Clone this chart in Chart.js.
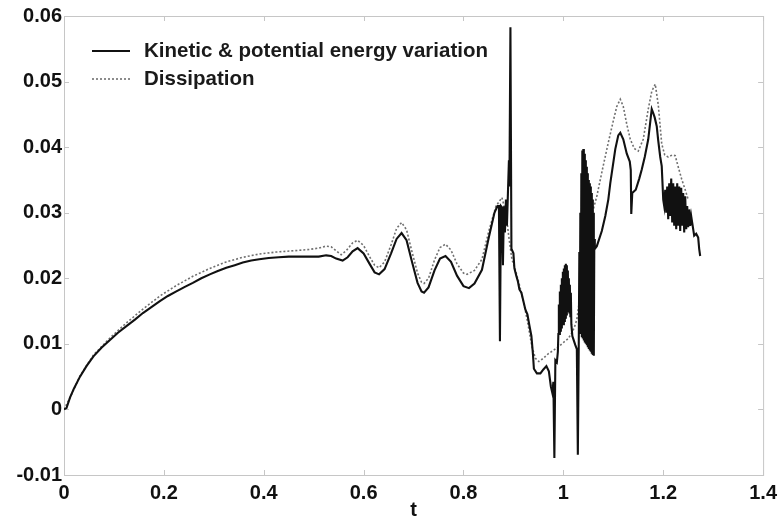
<!DOCTYPE html>
<html>
<head>
<meta charset="utf-8">
<script src="https://cdn.jsdelivr.net/npm/chart.js@4.4.0/dist/chart.umd.min.js"></script>
<style>
    html, body { margin: 0; padding: 0; background: #fff; }
    canvas { display: block; }
</style>
</head>
<body>
<canvas id="graficoEnergia" width="783" height="522"></canvas>
<script>
// valores
var tCinetica = [
    0, 0.005, 0.012, 0.02, 0.032, 0.045, 0.059, 0.075, 0.092, 0.108,
    0.125, 0.142, 0.158, 0.175, 0.192, 0.208, 0.225, 0.242, 0.258, 0.275,
    0.292, 0.308, 0.325, 0.342, 0.358, 0.375, 0.391, 0.41, 0.43, 0.45,
    0.47, 0.491, 0.51, 0.525, 0.535, 0.545, 0.558, 0.568, 0.578, 0.588,
    0.6, 0.612, 0.622, 0.631, 0.642, 0.655, 0.666, 0.676, 0.686, 0.697,
    0.708, 0.716, 0.721, 0.73, 0.742, 0.753, 0.764, 0.775, 0.787, 0.8,
    0.811, 0.822, 0.837, 0.85, 0.862, 0.868, 0.871, 0.873, 0.875, 0.877,
    0.879, 0.881, 0.883, 0.885, 0.887, 0.889, 0.891, 0.892, 0.894, 0.896,
    0.9, 0.902, 0.906, 0.909, 0.912, 0.916, 0.92, 0.924, 0.928, 0.932,
    0.936, 0.939, 0.941, 0.947, 0.954, 0.96, 0.966, 0.971, 0.975, 0.978,
    0.98, 0.982, 0.984, 0.987, 0.989,
    0.990, 0.991, 0.992, 0.993, 0.994, 0.995, 0.996, 0.997, 0.998, 0.999,
    1.000, 1.001, 1.002, 1.003, 1.004, 1.005, 1.006, 1.007, 1.008, 1.009,
    1.010, 1.011, 1.012, 1.013, 1.014, 1.015, 1.016, 1.018, 1.021, 1.024,
    1.027, 1.029, 1.031,
    1.032, 1.033, 1.034, 1.035, 1.036, 1.037, 1.038, 1.039, 1.040, 1.041,
    1.042, 1.043, 1.044, 1.045, 1.046, 1.047, 1.048, 1.049, 1.050, 1.051,
    1.052, 1.053, 1.054, 1.055, 1.056, 1.057, 1.058, 1.059, 1.060, 1.061,
    1.062, 1.063,
    1.067, 1.077, 1.084, 1.09, 1.094, 1.104, 1.11, 1.114, 1.12, 1.127,
    1.133, 1.135, 1.136, 1.138, 1.145, 1.152, 1.157, 1.163, 1.17, 1.175,
    1.177, 1.18, 1.183, 1.187, 1.19, 1.194, 1.197, 1.2,
    1.202, 1.204, 1.206, 1.208, 1.210, 1.212, 1.214, 1.216, 1.218, 1.220,
    1.222, 1.224, 1.226, 1.228, 1.230, 1.232, 1.234, 1.236, 1.238, 1.240,
    1.242, 1.244, 1.246, 1.248, 1.250, 1.252, 1.254, 1.256, 1.258, 1.262,
    1.266, 1.27, 1.272, 1.274
];
var cinetica = [
    0, 0.0002, 0.0018, 0.0032, 0.005, 0.0066, 0.0081, 0.0094, 0.0106, 0.0117,
    0.0127, 0.0137, 0.0147, 0.0156, 0.0165, 0.0173, 0.018, 0.0187, 0.0193, 0.02,
    0.0206, 0.0211, 0.0216, 0.022, 0.0224, 0.0227, 0.0229, 0.0231, 0.0232, 0.0233,
    0.0233, 0.0233, 0.0233, 0.0235, 0.0234, 0.023, 0.0227, 0.0232, 0.0241, 0.0246,
    0.0238, 0.0222, 0.0209, 0.0206, 0.0214, 0.0238, 0.026, 0.0269, 0.0258, 0.0225,
    0.0193, 0.018, 0.0178, 0.0186, 0.0212, 0.023, 0.0234, 0.0225, 0.0204, 0.0188,
    0.0185, 0.0192, 0.0213, 0.026, 0.030, 0.031, 0.031, 0.0104, 0.031, 0.0308,
    0.022, 0.031, 0.027, 0.032, 0.028, 0.033, 0.038, 0.034, 0.0583, 0.0245,
    0.0238, 0.0215, 0.0203, 0.0195, 0.0183, 0.0178, 0.0165, 0.0152, 0.0145, 0.0128,
    0.0112, 0.0085, 0.0062, 0.0055, 0.0055, 0.0061, 0.0066, 0.0058, 0.0035, 0.0025,
    0.0042, -0.0074, 0.0075, 0.0072, 0.0088,
    0.0115, 0.016, 0.0115, 0.018, 0.012, 0.019, 0.0125, 0.020, 0.013, 0.021,
    0.013, 0.0215, 0.0135, 0.022, 0.014, 0.0222, 0.0145, 0.022, 0.015, 0.0212,
    0.015, 0.020, 0.0148, 0.019, 0.0142, 0.0178, 0.013, 0.0112, 0.0105, 0.0098,
    0.0092, -0.0069, 0.0115,
    0.024, 0.012, 0.030, 0.0115, 0.036, 0.011, 0.0395, 0.0108, 0.0397, 0.0105,
    0.039, 0.0102, 0.038, 0.010, 0.037, 0.0098, 0.036, 0.0095, 0.035, 0.0092,
    0.0345, 0.009, 0.034, 0.0088, 0.033, 0.0085, 0.032, 0.0083, 0.030, 0.0082,
    0.026, 0.0245,
    0.0249, 0.0272, 0.0295, 0.032, 0.0345, 0.0397, 0.0418, 0.0422, 0.0412, 0.039,
    0.0378, 0.0365, 0.0298, 0.033, 0.0335, 0.0352, 0.0366, 0.0385, 0.0412, 0.0445,
    0.0458, 0.0452, 0.0445, 0.0432, 0.041, 0.0385, 0.0371, 0.032,
    0.031, 0.0335, 0.030, 0.034, 0.029, 0.0345, 0.0295, 0.0352, 0.0285, 0.0345,
    0.028, 0.034, 0.0275, 0.0345, 0.028, 0.034, 0.0272, 0.0338, 0.028, 0.033,
    0.027, 0.0325, 0.0275, 0.031, 0.0278, 0.0305, 0.028, 0.0295, 0.0285, 0.0265,
    0.0268, 0.0262, 0.0245, 0.0234
];

var tDissipacao = [
    0, 0.012, 0.032, 0.059, 0.092, 0.125, 0.158, 0.192, 0.225, 0.258,
    0.292, 0.325, 0.358, 0.391, 0.425, 0.46, 0.491, 0.51, 0.524, 0.535,
    0.545, 0.555, 0.565, 0.578, 0.588, 0.6, 0.612, 0.622, 0.631, 0.642,
    0.655, 0.666, 0.676, 0.686, 0.697, 0.708, 0.716, 0.721, 0.73, 0.742,
    0.753, 0.764, 0.775, 0.787, 0.8, 0.807, 0.822, 0.837, 0.85, 0.865,
    0.877, 0.885, 0.891, 0.897, 0.905, 0.912, 0.92, 0.928, 0.937, 0.944,
    0.951, 0.96, 0.97, 0.98, 0.991, 1.0, 1.01, 1.017, 1.022, 1.027,
    1.032, 1.037, 1.05, 1.058, 1.067, 1.078, 1.09, 1.1, 1.107, 1.114,
    1.12, 1.127, 1.134, 1.142, 1.15, 1.16, 1.17, 1.177, 1.184, 1.19,
    1.197, 1.203, 1.21, 1.218, 1.224, 1.23, 1.237, 1.244, 1.25
];
var dissipacao = [
    0, 0.0018, 0.0051, 0.0083, 0.0109, 0.0132, 0.0153, 0.0173, 0.0189, 0.0203,
    0.0215, 0.0225, 0.0232, 0.0237, 0.024, 0.0242, 0.0244, 0.0246, 0.0249, 0.0248,
    0.0242, 0.0236, 0.0242, 0.0254, 0.0258, 0.025, 0.0233, 0.022, 0.0216, 0.0225,
    0.0251, 0.0276, 0.0285, 0.0274, 0.024, 0.0208, 0.0194, 0.0192, 0.02, 0.0228,
    0.0247, 0.0252, 0.0243, 0.0222, 0.0208, 0.0206, 0.0212, 0.0229, 0.027, 0.031,
    0.0323, 0.030, 0.0262, 0.0229, 0.021, 0.019, 0.0165, 0.0135, 0.0096, 0.0078,
    0.0073, 0.0078, 0.0085, 0.009, 0.0096, 0.0102, 0.0108, 0.0117, 0.0125, 0.0137,
    0.0165, 0.0193, 0.027, 0.030, 0.0325, 0.0365, 0.0407, 0.044, 0.0462, 0.0473,
    0.0462, 0.0435, 0.0412, 0.0398, 0.0394, 0.0412, 0.0458, 0.0485, 0.0496, 0.0465,
    0.0405, 0.0388, 0.0385, 0.0388, 0.0387, 0.037, 0.0351, 0.0335, 0.032
];

var ticksX = [0, 0.2, 0.4, 0.6, 0.8, 1, 1.2, 1.4];
var ticksY = [-0.01, 0, 0.01, 0.02, 0.03, 0.04, 0.05, 0.06];
var rotulos = ['Kinetic & potential energy variation', 'Dissipation'];

var fonte = '"Liberation Sans", Arial, Helvetica, sans-serif';

function montarPontos(listaT, listaY) {
    var pontos = [];
    for (var i = 0; i < listaT.length; i++) {
        pontos.push({ x: listaT[i], y: listaY[i] });
    }
    return pontos;
}

function formatarTick(valor) {
    return String(parseFloat(valor.toFixed(3)));
}

// moldura e marcas para dentro, estilo matlab
const pluginMoldura = {
    id: 'moldura',
    beforeDatasetsDraw(chart) {
        const { ctx, chartArea: a, scales } = chart;
        ctx.save();
        ctx.strokeStyle = '#c6c6c6';
        ctx.lineWidth = 1;
        ctx.strokeRect(a.left + 0.5, a.top + 0.5, a.right - a.left, a.bottom - a.top);
        ctx.beginPath();
        scales.x.ticks.forEach(t => {
            const px = Math.round(scales.x.getPixelForValue(t.value)) + 0.5;
            ctx.moveTo(px, a.bottom); ctx.lineTo(px, a.bottom - 5);
            ctx.moveTo(px, a.top); ctx.lineTo(px, a.top + 5);
        });
        scales.y.ticks.forEach(t => {
            const py = Math.round(scales.y.getPixelForValue(t.value)) + 0.5;
            ctx.moveTo(a.left, py); ctx.lineTo(a.left + 5, py);
            ctx.moveTo(a.right, py); ctx.lineTo(a.right - 5, py);
        });
        ctx.stroke();
        ctx.restore();
    }
};

const pluginLegenda = {
    id: 'legendaMatlab',
    afterDatasetsDraw(chart) {
        const { ctx, chartArea: a } = chart;
        ctx.save();
        ctx.font = 'bold 20.5px ' + fonte;
        ctx.textBaseline = 'middle';
        ctx.fillStyle = '#1a1a1a';
        chart.data.datasets.forEach((ds, i) => {
            const y = a.top + 35 + i * 28;
            ctx.strokeStyle = ds.borderColor;
            ctx.lineWidth = ds.borderWidth;
            ctx.setLineDash(ds.borderDash || []);
            ctx.beginPath();
            ctx.moveTo(a.left + 28, y);
            ctx.lineTo(a.left + 66, y);
            ctx.stroke();
            ctx.fillText(ds.label, a.left + 80, y);
        });
        ctx.restore();
    }
};

const ctx = document.getElementById('graficoEnergia');

const data = {
    datasets: [
        {
            label: rotulos[0],
            data: montarPontos(tCinetica, cinetica),
            borderColor: '#111111',
            borderWidth: 2.1,
            pointRadius: 0,
            tension: 0
        },
        {
            label: rotulos[1],
            data: montarPontos(tDissipacao, dissipacao),
            borderColor: '#707070',
            borderWidth: 1.6,
            borderDash: [2, 2],
            pointRadius: 0,
            tension: 0
        }
    ]
};

const config = {
    type: 'line',
    data: data,
    options: {
        responsive: false,
        animation: false,
        devicePixelRatio: 1,
        layout: { padding: { left: 0, top: 16, right: 19, bottom: 0 } },
        plugins: {
            legend: { display: false },
            tooltip: { enabled: false }
        },
        scales: {
            x: {
                type: 'linear',
                min: 0,
                max: 1.4,
                afterBuildTicks: scale => { scale.ticks = ticksX.map(v => ({ value: v })); },
                afterFit: scale => { scale.height = 47; },
                grid: { display: false, drawTicks: false },
                border: { display: false },
                ticks: {
                    padding: 6,
                    maxRotation: 0,
                    color: '#111',
                    font: { family: fonte, size: 20, weight: 'bold' },
                    callback: formatarTick
                },
                title: {
                    display: true,
                    text: 't',
                    color: '#111',
                    padding: { top: 0, bottom: 0 },
                    font: { family: fonte, size: 20, weight: 'bold' }
                }
            },
            y: {
                min: -0.01,
                max: 0.06,
                afterBuildTicks: scale => { scale.ticks = ticksY.map(v => ({ value: v })); },
                afterFit: scale => { scale.width = 64; },
                grid: { display: false, drawTicks: false },
                border: { display: false },
                ticks: {
                    padding: 2,
                    color: '#111',
                    font: { family: fonte, size: 20, weight: 'bold' },
                    callback: formatarTick
                }
            }
        }
    },
    plugins: [pluginMoldura, pluginLegenda]
};

const graficoEnergia = new Chart(ctx, config);
</script>
</body>
</html>
